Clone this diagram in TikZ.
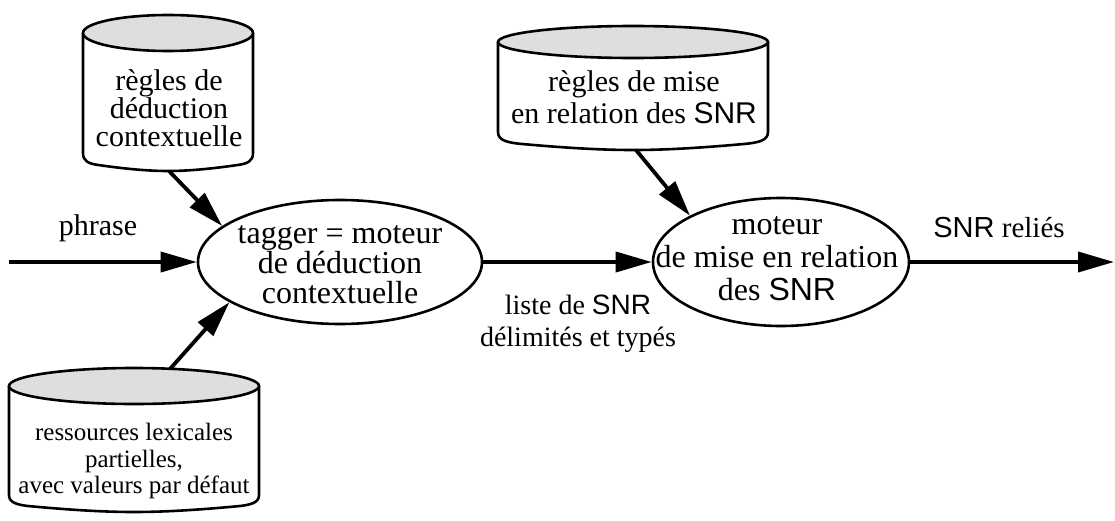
\documentclass[tikz,border=0pt]{standalone}
\usepackage{fontspec}
\setmainfont{Liberation Serif}
\setsansfont{Liberation Sans}
\usetikzlibrary{arrows.meta,shapes.geometric}
\newcommand\snr{{\sffamily SNR}}
\newcommand\drawcyl[6]{%
  \pgfmathsetmacro\cylW{#2-#1}%
  \pgfmathsetmacro\cylX{(#1+#2)/2}%
  \pgfmathsetmacro\cylRx{(#2-#1)/2}%
  \draw[cylline] (#1,#3) -- (#1,#5)
    .. controls (#1,{#5+0.45*#6}) and ({#1+0.03*\cylW},{#5+0.6*#6}) .. ({#1+0.1*\cylW},{#5+0.68*#6})
    .. controls ({#1+0.25*\cylW},{#5+0.88*#6}) and ({\cylX-0.12*\cylW},{#5+#6}) .. (\cylX,{#5+#6})
    .. controls ({\cylX+0.12*\cylW},{#5+#6}) and ({#2-0.25*\cylW},{#5+0.88*#6}) .. ({#2-0.1*\cylW},{#5+0.68*#6})
    .. controls ({#2-0.03*\cylW},{#5+0.6*#6}) and (#2,{#5+0.45*#6}) .. (#2,#5) -- (#2,#3);
  \filldraw[cyltop] (\cylX,#3) ellipse ({\cylRx} and {#4});
}
\begin{document}
\begin{tikzpicture}[x=0.5pt,y=-0.5pt,
  cylline/.style={line width=1.3pt, line join=round},
  cyltop/.style={line width=1.3pt, fill=black!13},
  proc/.style={ellipse, draw, line width=1.3pt, inner sep=0pt},
  flow/.style={line width=1.9pt, -{Triangle[length=18pt,width=10pt]}},
  txt/.style={align=center, inner sep=0pt}]
\useasboundingbox (0,0) rectangle (1115,520);

% cylinders (stores)
\drawcyl{83}{253}{33}{18}{153}{18}
\node[txt, font=\fontsize{15}{14}\selectfont] (c1) at (169,108) {règles de\\déduction\\contextuelle};
\coordinate (c1b) at (169,171);

\drawcyl{9}{259}{386}{18}{495}{17}
\node[txt, font=\fontsize{12.5}{13.25}\selectfont] (c2) at (134,461) {ressources lexicales\\partielles,\\avec valeurs par défaut};
\coordinate (c2t) at (170,369);

\drawcyl{498}{768}{42}{16}{132}{18}
\node[txt, font=\fontsize{15}{16}\selectfont] (c3) at (634,97) {règles de mise\\en relation des \snr};
\coordinate (c3b) at (636,150);

% processes
\node[proc, minimum width=142pt, minimum height=62pt] (e1) at (340,262) {};
\node[txt, font=\fontsize{16}{15}\selectfont] (e1t) at (340,265) {tagger = moteur\\de déduction\\contextuelle};
\node[proc, minimum width=128pt, minimum height=64pt] (e2) at (781,262) {};
\node[txt, font=\fontsize{16}{16.5}\selectfont] (e2t) at (777,259) {moteur\\de mise en relation\\des \snr};

\coordinate (in0) at (9,262);
\coordinate (out0) at (1114,262);

% connectors
\draw[flow] (in0) -- (e1.west);
\draw[flow] (e1.east) -- (e2.west);
\draw[flow] (e2.east) -- (out0);
\draw[flow] (c1b) -- (e1.163);
\draw[flow] (c2t) -- (e1.200);
\draw[flow] (c3b) -- (e2.153);

% labels
\node[anchor=base, inner sep=0pt, font=\fontsize{15}{15}\selectfont] (lphr) at (98,235) {phrase};
\node[anchor=base, inner sep=0pt, font=\fontsize{14.5}{15}\selectfont] (lrel) at (999,237) {\snr{} reliés};
\node[txt, font=\fontsize{14}{16}\selectfont] (lliste) at (578,324) {liste de \snr\\délimités et typés};
\end{tikzpicture}
\end{document}
